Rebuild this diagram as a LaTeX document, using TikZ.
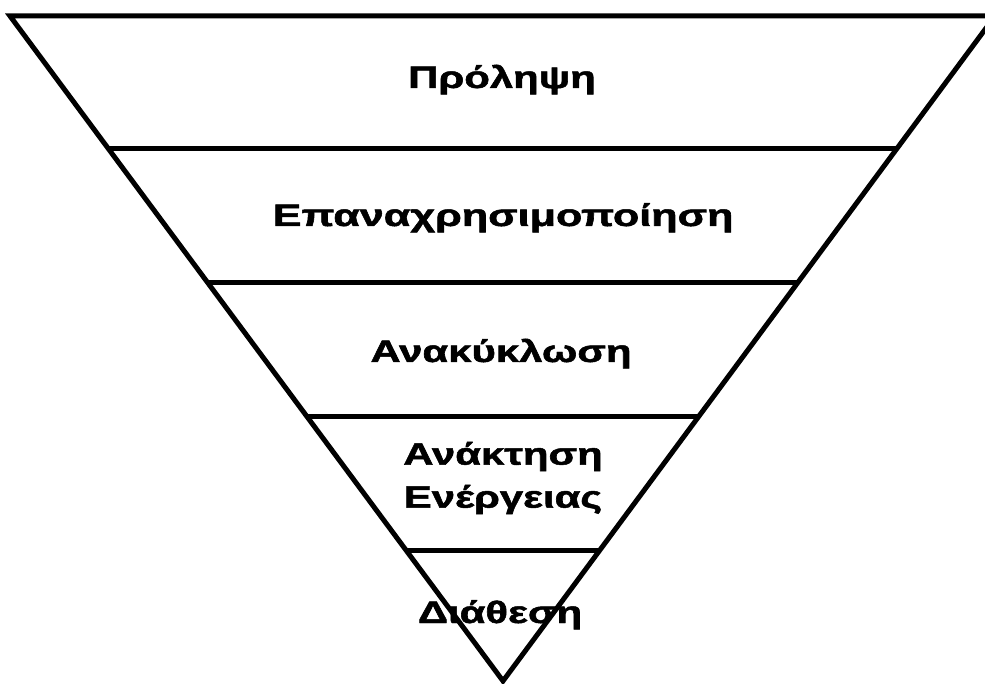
\documentclass[tikz,border=0pt]{standalone}
\usepackage{fontspec}
\setmainfont{Liberation Sans}
\newfontfamily\tagfont{Liberation Sans Bold}[FakeBold=1.5]
\usetikzlibrary{calc}
\tikzset{
  funnel/.style={ % outline of the inverted triangle
    line width=5pt, draw=black, line join=miter
  },
  level/.style={ % line between two levels
    line width=5pt, draw=black
  },
  tag/.style={ % text of one level
    font=\tagfont\fontsize{31}{43}\selectfont, text=black,
    inner sep=0pt, xscale=1.35, transform shape, align=center
  }
}
\begin{document}
\begin{tikzpicture}[x=1pt, y=-1pt]
  \useasboundingbox (0,0) rectangle (985,684);
  \clip (0,0) rectangle (985,684);

  \coordinate (tl) at (10,16);
  \coordinate (tr) at (995,16);
  \coordinate (apex) at (503,681);

  \draw[funnel] (tl) -- (tr) -- (apex) -- cycle;

  \foreach \f in {0.2,0.401,0.602,0.804}
    \draw[level] ($(tl)!\f!(apex)$) -- ($(tr)!\f!(apex)$);

  \node[tag, anchor=base] (prevent) at (502,88) {Πρόληψη};
  \node[tag, anchor=base, xscale=1.03] (reuse) at (503,226) {Επαναχρησιμοποίηση};
  \node[tag, anchor=base] (recycle) at (501,362) {Ανακύκλωση};
  \node[tag] (recover) at (503,478) {Ανάκτηση\\Ενέργειας};
  \node[tag, anchor=base] (dispose) at (500,623) {Διάθεση};
\end{tikzpicture}
\end{document}
